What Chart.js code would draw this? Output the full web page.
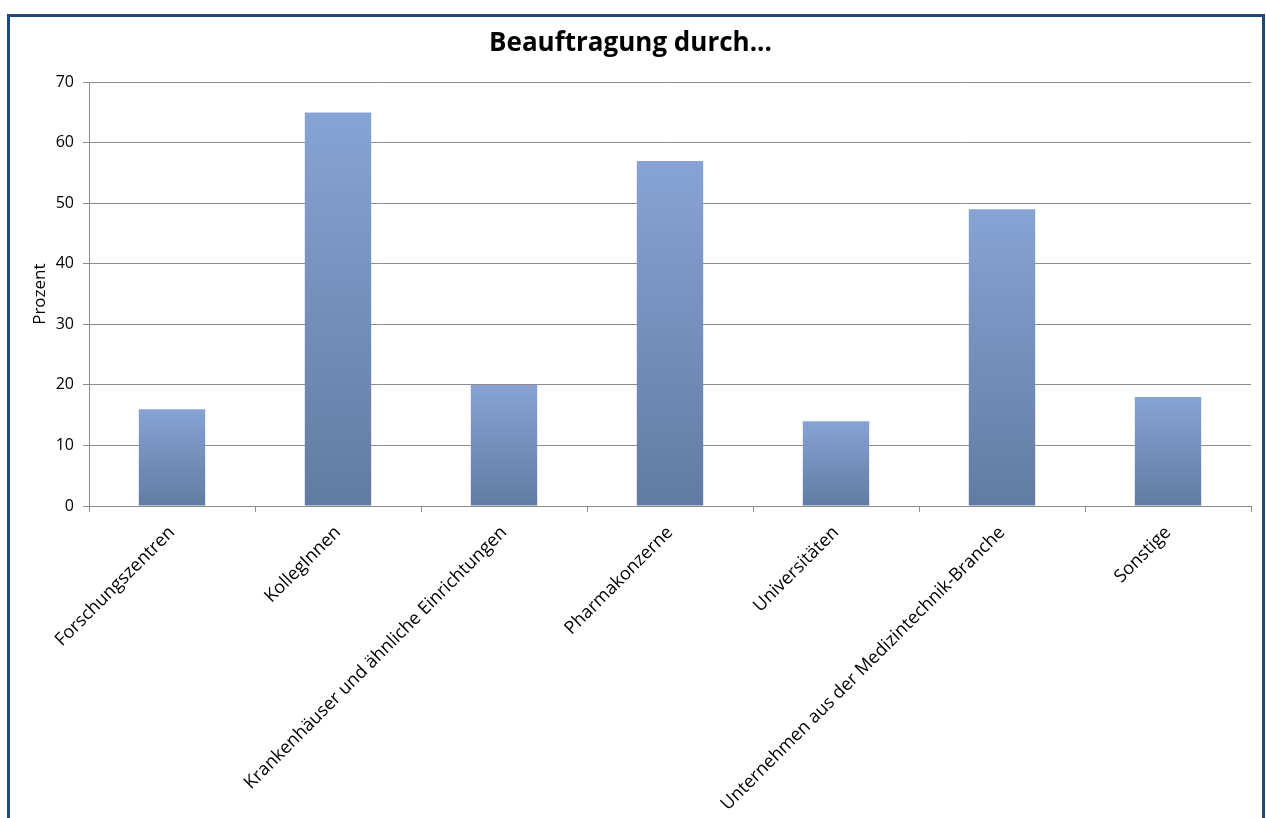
<!DOCTYPE html>
<html>
<head>
<meta charset="utf-8">
<script src="https://cdn.jsdelivr.net/npm/chart.js@4"></script>
<style>
  html, body { margin: 0; padding: 0; background: #fff; overflow: hidden; }
  #frame {
    position: absolute; left: 7px; top: 14px;
    width: 1252px; height: 900px;
    border: 3px solid #1f497d;
  }
  #wrap { position: absolute; left: 0; top: 0; width: 1266px; height: 818px; }
</style>
</head>
<body>
<div id="frame"></div>
<div id="wrap"><canvas id="chart"></canvas></div>
<script>
// data
const categories = [
  "Forschungszentren",
  "KollegInnen",
  "Krankenhäuser und ähnliche Einrichtungen",
  "Pharmakonzerne",
  "Universitäten",
  "Unternehmen aus der Medizintechnik-Branche",
  "Sonstige"
];
const prozent = [16, 65, 20, 57, 14, 49, 18];
const yTicks = [0, 10, 20, 30, 40, 50, 60, 70];

const FONT = "'Open Sans', sans-serif";

// gradient per bar, light on top, darker at the base
const barFill = (context) => {
  const chart = context.chart;
  const { ctx, chartArea, scales } = chart;
  if (!chartArea) return "#7b96c4";
  const v = context.raw;
  const yTop = scales.y.getPixelForValue(v);
  const yBase = scales.y.getPixelForValue(0);
  const g = ctx.createLinearGradient(0, yTop, 0, yBase);
  g.addColorStop(0, "#87a3d5");
  g.addColorStop(1, "#627ba3");
  return g;
};

const ctx = document.getElementById("chart").getContext("2d");
new Chart(ctx, {
  type: "bar",
  data: {
    labels: categories,
    datasets: [{
      label: "Prozent",
      data: prozent,
      backgroundColor: barFill,
      borderWidth: 0,
      categoryPercentage: 1,
      barPercentage: 0.4
    }]
  },
  options: {
    responsive: true,
    maintainAspectRatio: false,
    animation: false,
    layout: { padding: { left: 10, right: 15, top: 0, bottom: 0 } },
    plugins: {
      legend: { display: false },
      tooltip: { enabled: false },
      title: {
        display: true,
        text: "Beauftragung durch...",
        color: "#000",
        font: { family: FONT, size: 26, weight: "bold" },
        padding: { top: 28, bottom: 23 }
      }
    },
    scales: {
      x: {
        grid: { display: true, drawOnChartArea: false, drawTicks: true, tickLength: 6, offset: true, color: "#8c8c8c" },
        border: { display: true, color: "#8c8c8c" },
        ticks: {
          autoSkip: false,
          maxRotation: 45,
          minRotation: 45,
          padding: 10,
          color: "#000",
          font: { family: FONT, size: 18 }
        },
        afterFit: (scale) => { scale.height = 312; }
      },
      y: {
        min: 0,
        max: 70,
        afterBuildTicks: (scale) => { scale.ticks = yTicks.map(v => ({ value: v })); },
        grid: { color: "#8c8c8c", tickLength: 6 },
        border: { display: true, color: "#8c8c8c" },
        ticks: {
          padding: 9,
          color: "#000",
          font: { family: FONT, size: 16 }
        },
        title: {
          display: true,
          text: "Prozent",
          color: "#000",
          font: { family: FONT, size: 17 },
          padding: { top: 20 }
        },
        afterFit: (scale) => { scale.width = 79; }
      }
    }
  }
});
</script>
</body>
</html>
